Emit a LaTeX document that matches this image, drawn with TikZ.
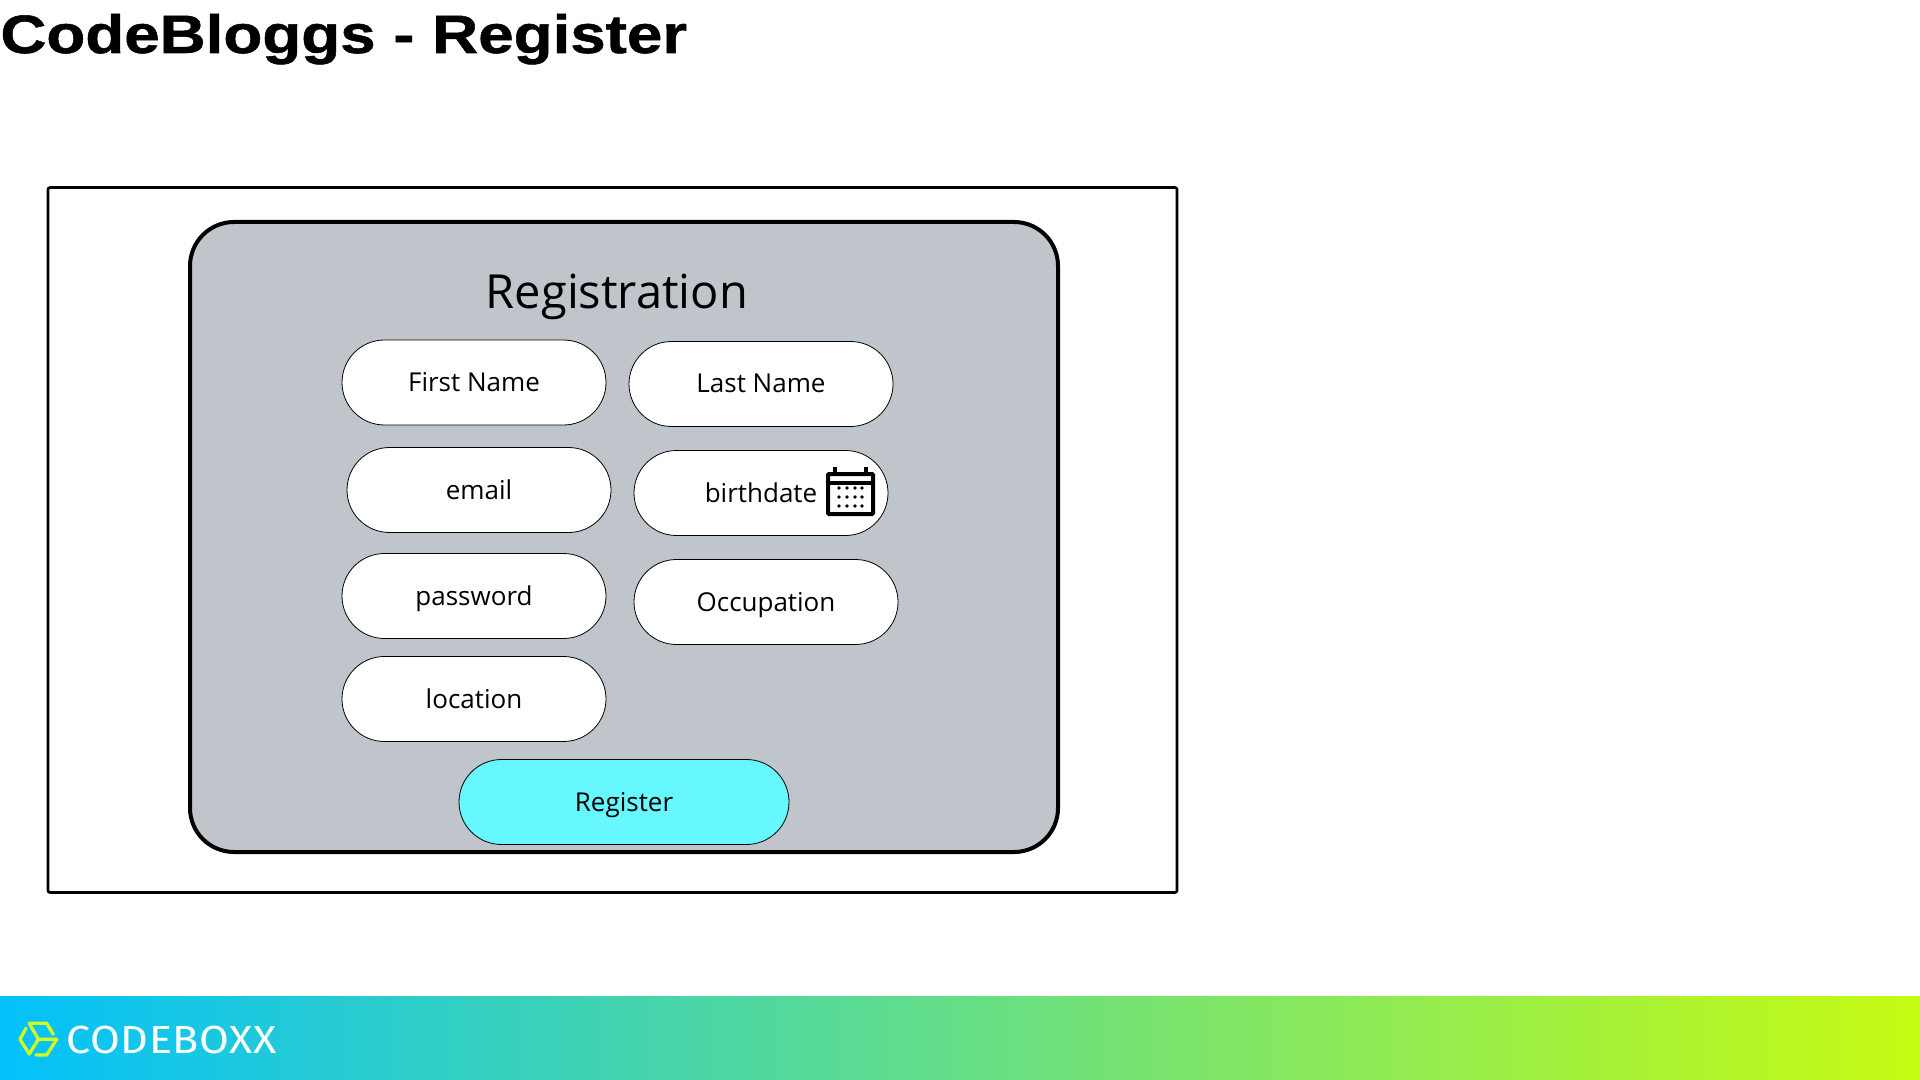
\documentclass[tikz,border=0pt]{standalone}
\usepackage{fontspec}
\setmainfont{Open Sans}
\newfontfamily\titlefont{Liberation Sans Bold}[FakeStretch=1.18, FakeBold=1]
\newfontfamily\logofont{Fira Sans}[FakeStretch=1.1, LetterSpace=1.5]
\usetikzlibrary{shapes.misc}
\definecolor{panelgray}{HTML}{C0C5CC}
\definecolor{btncyan}{HTML}{66F7FF}
\definecolor{barleft}{HTML}{04C1FB}
\definecolor{barright}{HTML}{C6FB12}
\definecolor{logolime}{HTML}{D2FF1E}
\tikzset{
  pill/.style={draw=black, line width=0.4pt, fill=white, rounded rectangle, rounded rectangle arc length=180,
    minimum width=132pt, minimum height=42.5pt, inner sep=0pt, text height=12pt, text depth=3pt,
    font=\fontsize{13}{15}\selectfont},
}
\begin{document}
\begin{tikzpicture}[x=0.5pt, y=-0.5pt]
  \useasboundingbox (0,0) rectangle (1920,1080);
  % baslik
  \node[anchor=base west, inner sep=0pt, font=\titlefont\fontsize{27}{30}\selectfont] (title) at (0,53) {CodeBloggs - Register};
  % dis cerceve ve gri panel
  \node[draw=black, line width=1.3pt, rounded corners=1pt, minimum width=564.5pt, minimum height=352.5pt, inner sep=0pt] (frame) at (612.5,540) {};
  \node[draw=black, line width=2pt, fill=panelgray, rounded corners=22pt, minimum width=434pt, minimum height=315pt, inner sep=0pt] (panel) at (624,537) {};
  \node[font=\fontsize{23.5}{26}\selectfont] (regtitle) at (617,297) {Registration};
  % kutular
  \foreach \nm/\cx/\cy/\lbl in {first/474/382.5/First Name, last/761/384/Last Name, email/479/490/email,
    password/474/596/password, occupation/766/602/Occupation, location/474/699/location}
    \node[pill] (\nm) at (\cx,\cy) {\lbl};
  \node[pill, minimum width=127pt] (birth) at (761,493) {birthdate};
  \node[pill, fill=btncyan, minimum width=165pt] (register) at (624,802) {Register};
  % takvim ikonu
  \draw[line width=2pt, rounded corners=0.5pt] (828,474) rectangle (873,514);
  \draw[line width=2pt] (828,483) -- (873,483);
  \foreach \x in {835,866}
    \draw[line width=2pt] (\x,467) -- (\x,474);
  \foreach \x in {839,847,855,862}
    \foreach \y in {488,497,506}
      \fill (\x,\y) circle (0.95pt);
  % alt serit
  \node[left color=barleft, right color=barright, minimum width=960pt, minimum height=42pt, inner sep=0pt] (bar) at (960,1038) {};
  \draw[logolime, line width=1.6pt, line cap=round, line join=round]
    (53.3,1034.3) -- (46.7,1023.3) -- (29.3,1023.3) -- (38.3,1039.3) -- (56.7,1039.3) -- (46.7,1055) -- (36,1055)
    (38.3,1039.3) -- (29.3,1054) -- (20,1039.3) -- (26,1028.3);
  \node[anchor=base west, inner sep=0pt, text=white, font=\logofont\fontsize{19.6}{22}\selectfont] (logo) at (66,1053) {CODEBOXX};
\end{tikzpicture}
\end{document}
